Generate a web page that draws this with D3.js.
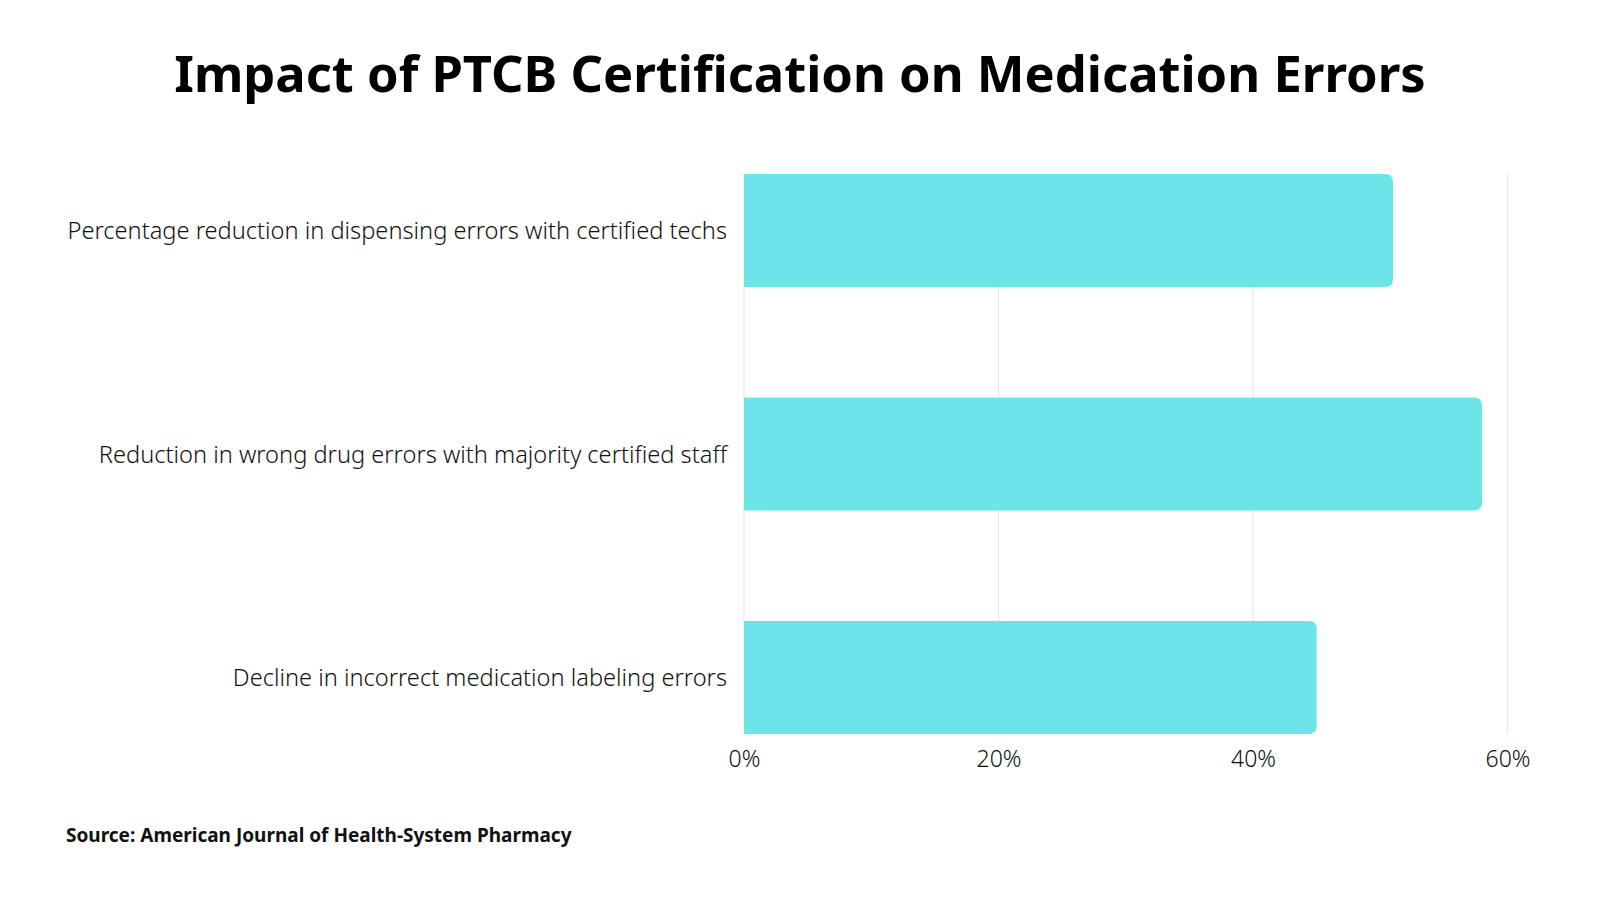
<!DOCTYPE html>
<html><head><meta charset="utf-8">
<script src="https://cdn.jsdelivr.net/npm/d3@7"></script>
<style>body{margin:0;background:#fff}svg{display:block}</style>
</head><body>
<svg id="c" width="1600" height="900"></svg>
<script>
const categories = [
  "Percentage reduction in dispensing errors with certified techs",
  "Reduction in wrong drug errors with majority certified staff",
  "Decline in incorrect medication labeling errors"
];
const values = [51, 58, 45];
const tickValues = [0, 20, 40, 60];
const title = "Impact of PTCB Certification on Medication Errors";
const source = "Source: American Journal of Health-System Pharmacy";

const svg = d3.select("#c");
const font = "'Noto Sans', 'Open Sans', sans-serif";

const x = d3.scaleLinear().domain([0, 60]).range([744, 1507.5]);
const y = d3.scaleBand().domain(categories).range([174, 734]).paddingInner(0.495).paddingOuter(0);

// title
const t = svg.append("text").attr("x", 800).attr("y", 92).attr("text-anchor", "middle")
  .attr("font-family", font).attr("font-weight", 700).attr("font-size", 54).attr("fill", "#000").text(title);
const tw = t.node().getComputedTextLength();
t.attr("font-size", 54 * 1252 / tw);

// grid
svg.append("g").selectAll("line").data(tickValues).join("line")
  .attr("x1", d => x(d)).attr("x2", d => x(d))
  .attr("y1", 174).attr("y2", 734)
  .attr("stroke", "#e6e6e6").attr("stroke-width", 1.2);

// bars with right rounded corners
const r = 8;
svg.append("g").selectAll("path").data(categories).join("path")
  .attr("fill", "#6ce5e8")
  .attr("d", (c, i) => {
    const x0 = x(0), x1 = x(values[i]), y0 = y(c), h = y.bandwidth();
    return `M${x0},${y0}H${x1 - r}Q${x1},${y0} ${x1},${y0 + r}V${y0 + h - r}Q${x1},${y0 + h} ${x1 - r},${y0 + h}H${x0}Z`;
  });

// category labels
const lab = svg.append("g").selectAll("text").data(categories).join("text")
  .attr("x", 727).attr("y", c => y(c) + y.bandwidth() / 2 + 0.5)
  .attr("dy", "0.35em").attr("text-anchor", "end")
  .attr("font-family", font).attr("font-weight", 300).attr("font-size", 22).attr("fill", "#111").text(c => c);
const lw = lab.nodes()[0].getComputedTextLength();
lab.attr("font-size", 22 * 660 / lw);

// x axis
const ax = svg.append("g").attr("transform", "translate(0,734)")
  .call(d3.axisBottom(x).tickValues(tickValues).tickFormat(d => d + "%").tickSize(0).tickPadding(17));
ax.select(".domain").remove();
ax.selectAll("text").attr("font-family", font).attr("font-weight", 300).attr("font-size", 23).attr("fill", "#111");

// source
svg.append("text").attr("x", 66).attr("y", 842)
  .attr("font-family", font).attr("font-weight", 700).attr("font-size", 19).attr("fill", "#111").text(source);
</script>
</body></html>
